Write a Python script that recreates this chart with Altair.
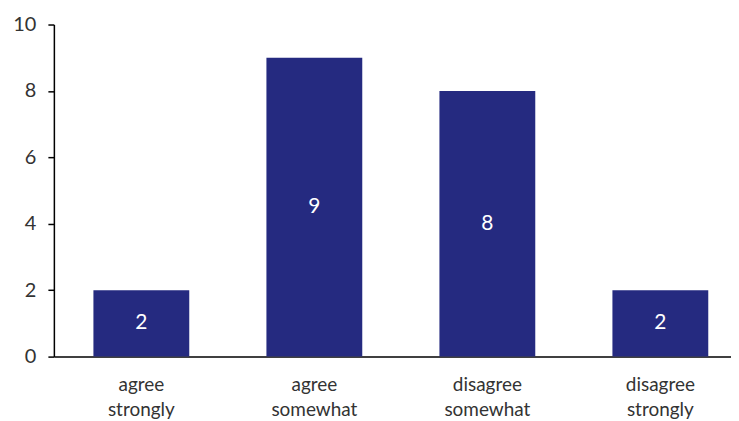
import altair as alt
import pandas as pd

categories = ["agree strongly", "agree somewhat", "disagree somewhat", "disagree strongly"]
values = [2, 9, 8, 2]

df = pd.DataFrame({"category": categories, "value": values})

FONT = "Lato"
x = alt.X(
    "category:N",
    sort=categories,
    title=None,
    scale=alt.Scale(paddingInner=0.446, paddingOuter=0.18, align=0.635),
    axis=alt.Axis(
        labelAngle=0,
        ticks=False,
        domainColor="black",
        domainWidth=1.5,
        labelExpr="split(datum.label, ' ')",
        labelFont=FONT,
        labelFontSize=19,
        labelColor="#333333",
        labelPadding=19,
        labelBaseline="top",
        labelLineHeight=25,
        grid=False,
    ),
)

base = alt.Chart(df)

bars = base.mark_bar(color="#252a80").encode(
    x=x,
    y=alt.Y(
        "value:Q",
        title=None,
        scale=alt.Scale(domain=[0, 10]),
        axis=alt.Axis(
            values=[0, 2, 4, 6, 8, 10],
            grid=False,
            domainColor="black",
            domainWidth=1.5,
            tickColor="black",
            tickSize=6,
            tickWidth=1.5,
            labelFont=FONT,
            labelFontSize=20,
            labelColor="#333333",
            labelPadding=12,
        ),
    ),
)

labels = base.transform_calculate(mid="datum.value / 2").mark_text(
    color="white", font=FONT, fontSize=21, baseline="middle"
).encode(
    x=alt.X("category:N", sort=categories),
    y=alt.Y("mid:Q"),
    text=alt.Text("value:Q"),
)

chart = (
    alt.layer(bars, labels)
    .properties(width=679, height=333, padding={"left": 4, "top": 6, "right": 0, "bottom": 0})
    .configure_view(stroke=None)
)

chart.save("out.html", embed_options={"renderer": "svg", "actions": False})
